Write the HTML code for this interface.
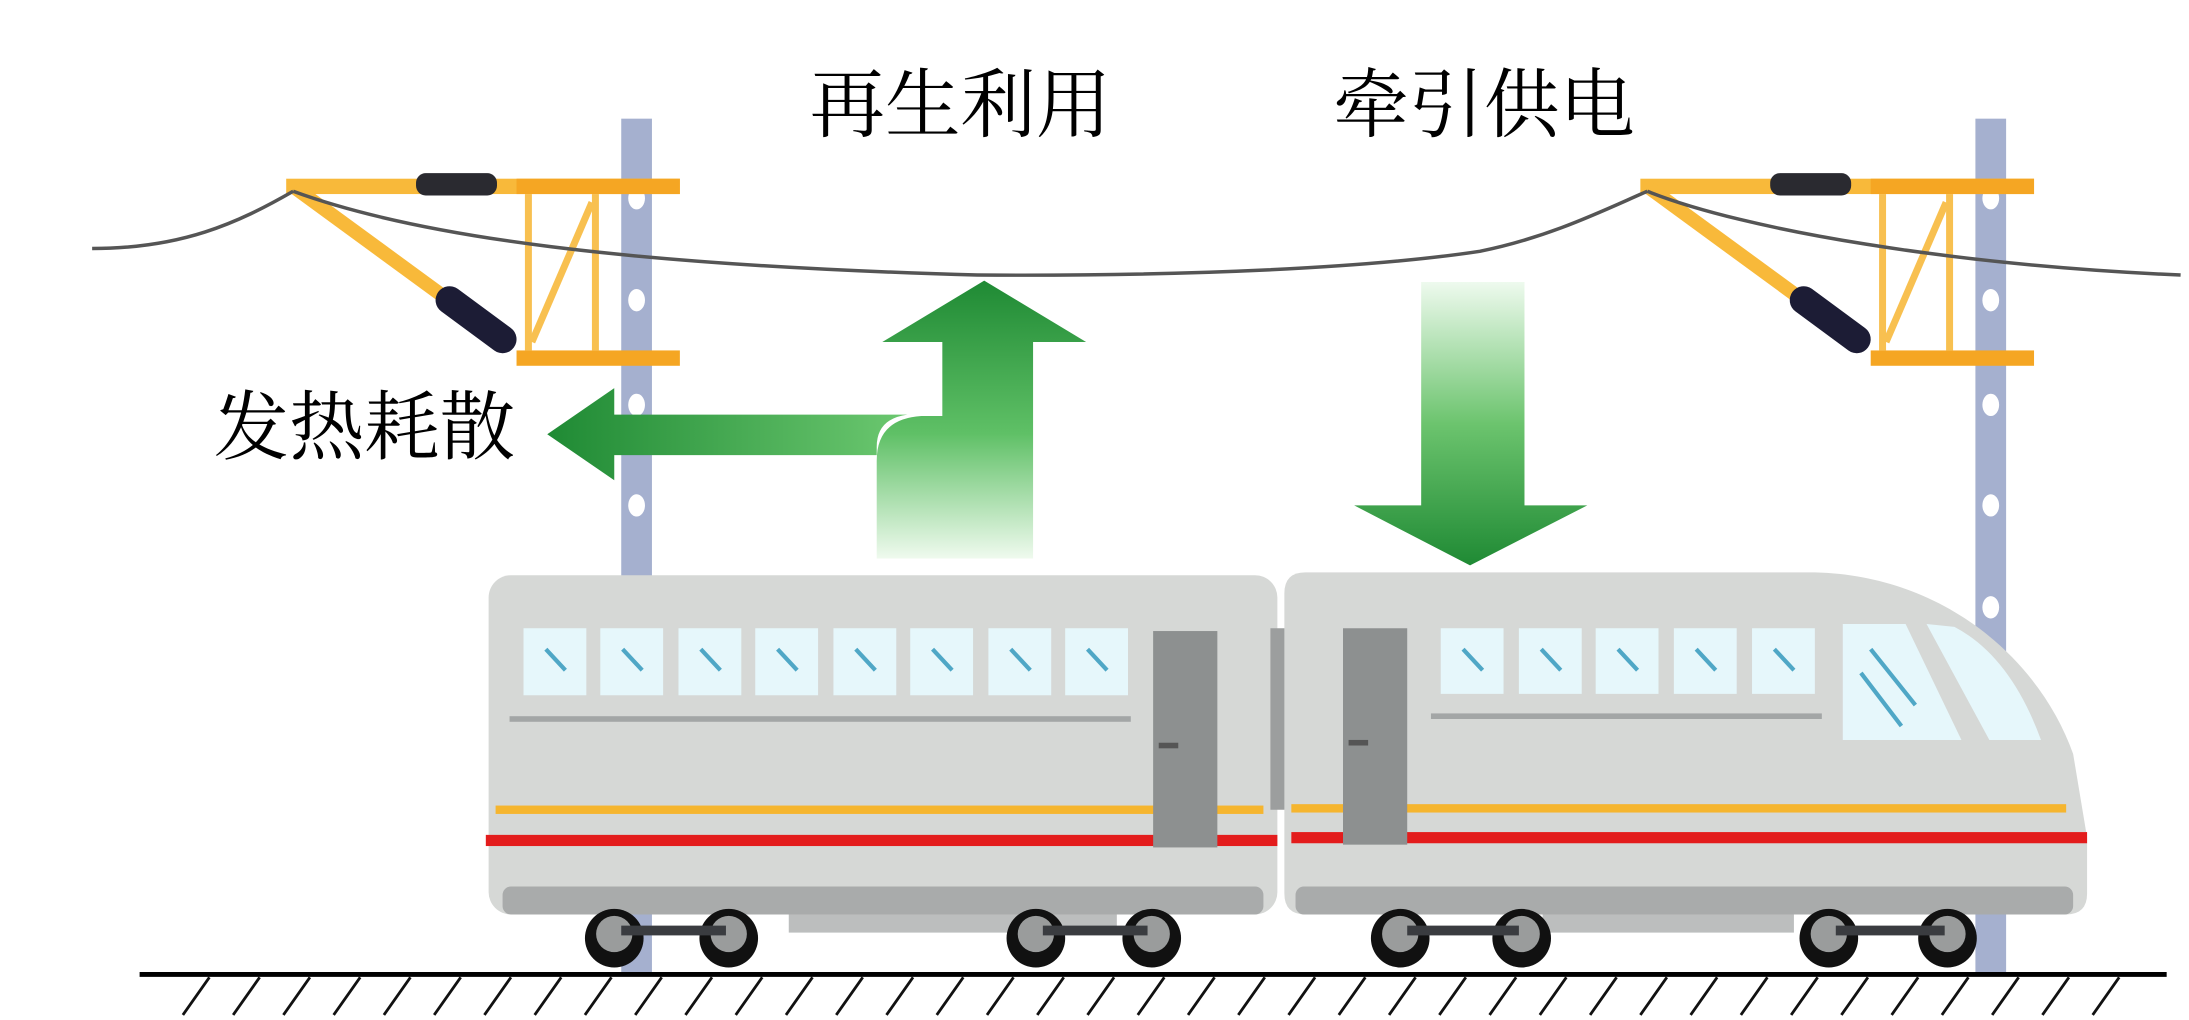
<!DOCTYPE html>
<html><head><meta charset="utf-8"><style>
html,body{margin:0;padding:0;background:#fff;}
svg{display:block;}
text{font-family:"Liberation Serif","Noto Serif CJK SC","Noto Sans CJK SC",serif;fill:#000;}
</style></head><body>
<svg width="2189" height="1020" viewBox="0 0 1568 730.6" preserveAspectRatio="none" xmlns="http://www.w3.org/2000/svg">
<defs>
<linearGradient id="gUp" x1="0" y1="0" x2="0" y2="1"><stop offset="0" stop-color="#1f8a34"/><stop offset="0.55" stop-color="#5fc066"/><stop offset="1" stop-color="#effaee"/></linearGradient>
<linearGradient id="gDown" x1="0" y1="0" x2="0" y2="1"><stop offset="0" stop-color="#eefaee"/><stop offset="0.5" stop-color="#6cc46e"/><stop offset="1" stop-color="#1f8a34"/></linearGradient>
<linearGradient id="gLeft" x1="0" y1="0" x2="1" y2="0"><stop offset="0" stop-color="#1f8a34"/><stop offset="1" stop-color="#6cc870"/></linearGradient>
</defs>

<rect x="445" y="85" width="22" height="612" fill="#a5b0cf"/>
<rect x="1415" y="85" width="22" height="612" fill="#a5b0cf"/>
<g fill="#fff">
<ellipse cx="456" cy="142" rx="6" ry="8"/><ellipse cx="456" cy="215" rx="6" ry="8"/><ellipse cx="456" cy="290" rx="6" ry="8"/><ellipse cx="456" cy="362" rx="6" ry="8"/>
<ellipse cx="1426" cy="142" rx="6" ry="8"/><ellipse cx="1426" cy="215" rx="6" ry="8"/><ellipse cx="1426" cy="290" rx="6" ry="8"/><ellipse cx="1426" cy="362" rx="6" ry="8"/><ellipse cx="1426" cy="435" rx="6" ry="8"/>
</g>

<g>
<rect x="205" y="128" width="282" height="11" fill="#f8b93a"/>
<rect x="370" y="128" width="117" height="11" fill="#f5a623"/>
<rect x="370" y="251" width="117" height="11" fill="#f5a623"/>
<rect x="376" y="139" width="5" height="112" fill="#f8c050"/>
<rect x="424" y="139" width="5" height="112" fill="#f8c050"/>
<line x1="381" y1="245" x2="424" y2="145" stroke="#f8c050" stroke-width="5"/>
<line x1="212" y1="135" x2="335" y2="225" stroke="#f8b93a" stroke-width="10"/>
<line x1="322" y1="215" x2="360" y2="243" stroke="#1c1c35" stroke-width="20" stroke-linecap="round"/>
<rect x="298" y="124" width="58" height="16" rx="7" fill="#2a2a30"/>
</g>
<g>
<rect x="1175" y="128" width="282" height="11" fill="#f8b93a"/>
<rect x="1340" y="128" width="117" height="11" fill="#f5a623"/>
<rect x="1340" y="251" width="117" height="11" fill="#f5a623"/>
<rect x="1346" y="139" width="5" height="112" fill="#f8c050"/>
<rect x="1394" y="139" width="5" height="112" fill="#f8c050"/>
<line x1="1351" y1="245" x2="1394" y2="145" stroke="#f8c050" stroke-width="5"/>
<line x1="1182" y1="135" x2="1305" y2="225" stroke="#f8b93a" stroke-width="10"/>
<line x1="1292" y1="215" x2="1330" y2="243" stroke="#1c1c35" stroke-width="20" stroke-linecap="round"/>
<rect x="1268" y="124" width="58" height="16" rx="7" fill="#2a2a30"/>
</g>

<g fill="none" stroke="#555" stroke-width="2.5">
<path d="M66,178 C130,178 170,160 210,137"/>
<path d="M210,137 C300,170 450,190 700,197 C850,198 980,192 1060,180 C1110,170 1150,150 1180,137"/>
<path d="M1180,137 C1250,165 1400,190 1562,197"/>
</g>

<path d="M628,400 L628,320 Q628,300 650,297 L440,297 L440,278 L392,311 L440,344 L440,326 L628,326 Z" fill="url(#gLeft)"/>
<path d="M628,400 L628,330 Q628,300 660,298 L675,298 L675,245 L632,245 L705,201 L778,245 L740,245 L740,400 Z" fill="url(#gUp)"/>
<path d="M1018,202 L1092,202 L1092,362 L1137,362 L1053,405 L970,362 L1018,362 Z" fill="url(#gDown)"/>

<text x="580" y="94" font-size="54">再生利用</text>
<text x="955" y="94" font-size="54">牵引供电</text>
<text x="153" y="325" font-size="54">发热耗散</text>

<g>
<rect x="350" y="412" width="565" height="243" rx="16" fill="#d6d8d6"/>
<g fill="#e6f7fb">
<rect x="375" y="450" width="45" height="48"/><rect x="430" y="450" width="45" height="48"/><rect x="486" y="450" width="45" height="48"/><rect x="541" y="450" width="45" height="48"/><rect x="597" y="450" width="45" height="48"/><rect x="652" y="450" width="45" height="48"/><rect x="708" y="450" width="45" height="48"/><rect x="763" y="450" width="45" height="48"/>
</g>
<g stroke="#4fa7c6" stroke-width="3">
<line x1="391" y1="465" x2="405" y2="480"/><line x1="446" y1="465" x2="460" y2="480"/><line x1="502" y1="465" x2="516" y2="480"/><line x1="557" y1="465" x2="571" y2="480"/><line x1="613" y1="465" x2="627" y2="480"/><line x1="668" y1="465" x2="682" y2="480"/><line x1="724" y1="465" x2="738" y2="480"/><line x1="779" y1="465" x2="793" y2="480"/>
</g>
<rect x="365" y="513" width="445" height="4" fill="#a3a6a6"/>
<rect x="355" y="577" width="550" height="6" fill="#f5b52f"/>
<rect x="348" y="598" width="567" height="8" fill="#e31c1c"/>
<rect x="826" y="452" width="46" height="155" fill="#8d9090"/>
<rect x="830" y="532" width="14" height="4" fill="#555"/>
<rect x="360" y="635" width="545" height="20" rx="6" fill="#a9abab"/>
<rect x="565" y="655" width="235" height="13" fill="#bcbebe"/>
</g>
<rect x="910" y="450" width="14" height="130" fill="#9c9e9e"/>

<g>
<path d="M935,410 L1300,410 C1390,412 1460,470 1485,540 L1495,600 L1495,640 Q1495,655 1480,655 L935,655 Q920,655 920,640 L920,425 Q920,410 935,410 Z" fill="#d6d8d6"/>
<g fill="#e6f7fb">
<rect x="1032" y="450" width="45" height="47"/><rect x="1088" y="450" width="45" height="47"/><rect x="1143" y="450" width="45" height="47"/><rect x="1199" y="450" width="45" height="47"/><rect x="1255" y="450" width="45" height="47"/>
<path d="M1320,447 L1365,447 L1405,530 L1320,530 Z"/>
<path d="M1380,447 L1400,449 Q1440,470 1462,530 L1425,530 Z"/>
</g>
<g stroke="#4fa7c6" stroke-width="3">
<line x1="1048" y1="465" x2="1062" y2="480"/><line x1="1104" y1="465" x2="1118" y2="480"/><line x1="1159" y1="465" x2="1173" y2="480"/><line x1="1215" y1="465" x2="1229" y2="480"/><line x1="1271" y1="465" x2="1285" y2="480"/>
<line x1="1340" y1="465" x2="1372" y2="505"/><line x1="1333" y1="482" x2="1362" y2="520"/>
</g>
<rect x="1025" y="511" width="280" height="4" fill="#a3a6a6"/>
<rect x="925" y="576" width="555" height="6" fill="#f5b52f"/>
<rect x="925" y="596" width="570" height="8" fill="#e31c1c"/>
<rect x="962" y="450" width="46" height="155" fill="#8d9090"/>
<rect x="966" y="530" width="14" height="4" fill="#555"/>
<rect x="928" y="635" width="557" height="20" rx="6" fill="#a9abab"/>
<rect x="1105" y="655" width="180" height="13" fill="#bcbebe"/>
</g>

<g>
<circle cx="440" cy="672" r="21" fill="#111"/><circle cx="440" cy="669" r="13" fill="#9a9c9c"/>
<circle cx="522" cy="672" r="21" fill="#111"/><circle cx="522" cy="669" r="13" fill="#9a9c9c"/>
<circle cx="742" cy="672" r="21" fill="#111"/><circle cx="742" cy="669" r="13" fill="#9a9c9c"/>
<circle cx="825" cy="672" r="21" fill="#111"/><circle cx="825" cy="669" r="13" fill="#9a9c9c"/>
<circle cx="1003" cy="672" r="21" fill="#111"/><circle cx="1003" cy="669" r="13" fill="#9a9c9c"/>
<circle cx="1090" cy="672" r="21" fill="#111"/><circle cx="1090" cy="669" r="13" fill="#9a9c9c"/>
<circle cx="1310" cy="672" r="21" fill="#111"/><circle cx="1310" cy="669" r="13" fill="#9a9c9c"/>
<circle cx="1395" cy="672" r="21" fill="#111"/><circle cx="1395" cy="669" r="13" fill="#9a9c9c"/>
</g>
<g fill="#3a3c40">
<rect x="445" y="663" width="75" height="7"/><rect x="747" y="663" width="75" height="7"/>
<rect x="1008" y="663" width="80" height="7"/><rect x="1315" y="663" width="78" height="7"/>
</g>

<line x1="100" y1="698" x2="1552" y2="698" stroke="#000" stroke-width="3.5"/>
<path stroke="#111" stroke-width="2" fill="none" d="M150,700 l-19,27 M186,700 l-19,27 M222,700 l-19,27 M258,700 l-19,27 M294,700 l-19,27 M330,700 l-19,27 M366,700 l-19,27 M402,700 l-19,27 M438,700 l-19,27 M474,700 l-19,27 M510,700 l-19,27 M546,700 l-19,27 M582,700 l-19,27 M618,700 l-19,27 M654,700 l-19,27 M690,700 l-19,27 M726,700 l-19,27 M762,700 l-19,27 M798,700 l-19,27 M834,700 l-19,27 M870,700 l-19,27 M906,700 l-19,27 M942,700 l-19,27 M978,700 l-19,27 M1014,700 l-19,27 M1050,700 l-19,27 M1086,700 l-19,27 M1122,700 l-19,27 M1158,700 l-19,27 M1194,700 l-19,27 M1230,700 l-19,27 M1266,700 l-19,27 M1302,700 l-19,27 M1338,700 l-19,27 M1374,700 l-19,27 M1410,700 l-19,27 M1446,700 l-19,27 M1482,700 l-19,27 M1518,700 l-19,27"/>
</svg>
</body></html>
